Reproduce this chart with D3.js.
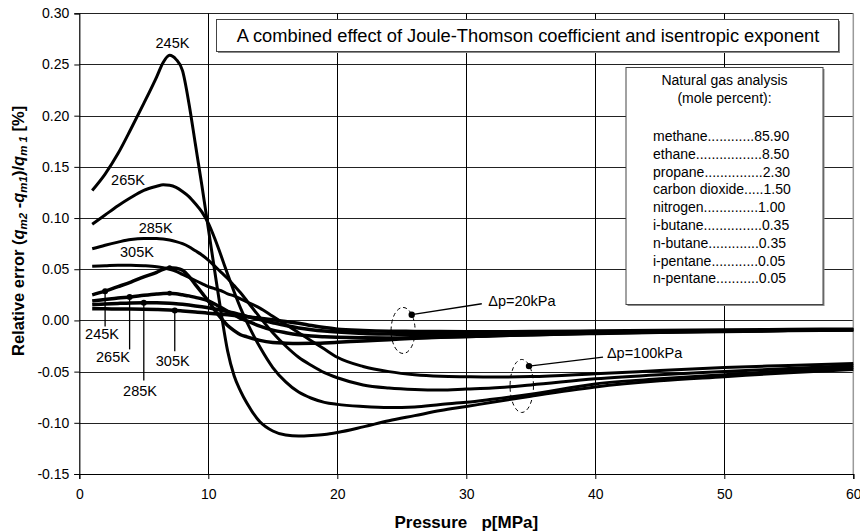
<!DOCTYPE html>
<html>
<head>
<meta charset="utf-8">
<script src="https://cdn.jsdelivr.net/npm/d3@7"></script>
<style>
  html, body { margin: 0; padding: 0; background: #fff; }
  svg { display: block; font-family: Arial, "Liberation Sans", sans-serif; }
</style>
</head>
<body>
<svg id="chart" width="860" height="532"></svg>
<script>
// Pressure grid [MPa] shared by every series
const pressure = [1, 2, 3, 4, 5, 6, 6.5, 7, 7.5, 8, 8.5, 9, 9.5, 10, 10.5, 11, 11.5, 12, 12.5, 13,
                  14, 15, 16, 17, 18, 19, 20, 22, 24, 26, 28, 30, 32, 35, 40, 45, 50, 55, 60];

// Relative error [%], pressure drop 100 kPa
const err245K_100 = [0.127, 0.143, 0.163, 0.187, 0.212, 0.238, 0.252, 0.259, 0.255, 0.244, 0.212, 0.172, 0.132, 0.090, 0.048, 0.007, -0.030, -0.054, -0.069, -0.081,
                     -0.099, -0.108, -0.112, -0.113, -0.1125, -0.1115, -0.1095, -0.104, -0.098, -0.093, -0.088, -0.084, -0.080, -0.074, -0.065, -0.059, -0.055, -0.051, -0.048];
const err265K_100 = [0.094, 0.103, 0.112, 0.120, 0.127, 0.131, 0.1325, 0.132, 0.130, 0.126, 0.121, 0.114, 0.106, 0.095, 0.080, 0.063, 0.045, 0.028, 0.012, -0.002,
                     -0.026, -0.046, -0.060, -0.070, -0.076, -0.080, -0.082, -0.084, -0.085, -0.0845, -0.082, -0.080, -0.077, -0.072, -0.062, -0.057, -0.053, -0.049, -0.046];
const err285K_100 = [0.070, 0.0735, 0.0765, 0.079, 0.080, 0.080, 0.0795, 0.0785, 0.077, 0.075, 0.072, 0.068, 0.064, 0.059, 0.053, 0.047, 0.041, 0.034, 0.027, 0.019,
                     0.003, -0.012, -0.025, -0.036, -0.044, -0.051, -0.056, -0.063, -0.066, -0.0675, -0.068, -0.067, -0.066, -0.063, -0.057, -0.053, -0.050, -0.047, -0.044];
const err305K_100 = [0.053, 0.0535, 0.054, 0.054, 0.0535, 0.0525, 0.0515, 0.050, 0.048, 0.045, 0.042, 0.039, 0.036, 0.033, 0.031, 0.029, 0.026, 0.024, 0.021, 0.018,
                     0.012, 0.004, -0.004, -0.012, -0.020, -0.028, -0.036, -0.045, -0.050, -0.053, -0.0545, -0.055, -0.0553, -0.0548, -0.052, -0.049, -0.046, -0.044, -0.042];

// Relative error [%], pressure drop 20 kPa
const err245K_20 = [0.025, 0.0286, 0.033, 0.0375, 0.0425, 0.047, 0.050, 0.0515, 0.051, 0.049, 0.043, 0.035, 0.027, 0.019, 0.010, 0.002, -0.005, -0.010, -0.014, -0.016,
                    -0.0195, -0.0215, -0.0222, -0.0225, -0.0224, -0.022, -0.0214, -0.020, -0.0188, -0.0175, -0.0165, -0.0157, -0.015, -0.014, -0.0127, -0.0116, -0.0107, -0.0099, -0.0093];
const err265K_20 = [0.019, 0.0205, 0.022, 0.023, 0.0245, 0.0258, 0.0263, 0.0265, 0.026, 0.025, 0.024, 0.0225, 0.021, 0.019, 0.016, 0.0125, 0.009, 0.0055, 0.002, -0.0005,
                    -0.0055, -0.0095, -0.012, -0.014, -0.0153, -0.016, -0.0165, -0.017, -0.0171, -0.0168, -0.0163, -0.0157, -0.015, -0.0139, -0.0123, -0.0113, -0.0104, -0.0097, -0.0092];
const err285K_20 = [0.0153, 0.016, 0.0166, 0.0171, 0.0173, 0.0172, 0.017, 0.0167, 0.0163, 0.0157, 0.015, 0.0142, 0.0133, 0.0123, 0.0112, 0.0099, 0.0086, 0.0072, 0.0056, 0.004,
                    0.0008, -0.0022, -0.005, -0.0073, -0.009, -0.0103, -0.0113, -0.0127, -0.0133, -0.0136, -0.0136, -0.0135, -0.0132, -0.0127, -0.0117, -0.0108, -0.0101, -0.0095, -0.009];
const err305K_20 = [0.0114, 0.0113, 0.0112, 0.0111, 0.0109, 0.0106, 0.0104, 0.0101, 0.0097, 0.0092, 0.0087, 0.0082, 0.0077, 0.0071, 0.0066, 0.006, 0.0055, 0.0049, 0.0043, 0.0037,
                    0.0022, 0.0006, -0.001, -0.0027, -0.005, -0.007, -0.0085, -0.0098, -0.0105, -0.0107, -0.0109, -0.011, -0.011, -0.0109, -0.0104, -0.0098, -0.0093, -0.0089, -0.0085];

// Temperatures of the curves
const temperatures = ["245K", "265K", "285K", "305K"];
// Pressures where the 20 kPa curves are tagged with their temperature
const tagPressure20 = [2.0, 3.9, 5.0, 7.4];
// Extra point markers on the 20 kPa curves
const markerPressure20 = [7.0, 7.0];

// Axis ticks
const xTicks = [0, 10, 20, 30, 40, 50, 60];
const yTicks = [-0.15, -0.10, -0.05, 0.00, 0.05, 0.10, 0.15, 0.20, 0.25, 0.30];
const yTickLabels = ["-0.15", "-0.10", "-0.05", "0.00", "0.05", "0.10", "0.15", "0.20", "0.25", "0.30"];

// Composition box
const titleText = "A combined effect of Joule-Thomson coefficient and isentropic exponent";
const gasHeader = ["Natural gas analysis", "(mole percent):"];
const gasLines = [
  "methane............85.90",
  "ethane.................8.50",
  "propane...............2.30",
  "carbon dioxide.....1.50",
  "nitrogen..............1.00",
  "i-butane...............0.35",
  "n-butane.............0.35",
  "i-pentane............0.05",
  "n-pentane...........0.05"
];

const series100 = [err245K_100, err265K_100, err285K_100, err305K_100];
const series20 = [err245K_20, err265K_20, err285K_20, err305K_20];

const svg = d3.select("#chart");
const L = 79.3, R = 853.3, T = 13.3, B = 474;

const x = d3.scaleLinear().domain([0, 60]).range([L, R]);
const y = d3.scaleLinear().domain([-0.15, 0.30]).range([B, T]);

// gridlines
const grid = svg.append("g");
grid.selectAll("line.h").data(yTicks.filter(v => v > -0.15)).join("line")
  .attr("x1", L).attr("x2", R)
  .attr("y1", d => Math.round(y(d)) + 0.5).attr("y2", d => Math.round(y(d)) + 0.5)
  .attr("stroke", "#222").attr("stroke-width", 1);
grid.selectAll("line.v").data(xTicks.filter(v => v > 0 && v < 60)).join("line")
  .attr("x1", d => Math.round(x(d)) + 0.5).attr("x2", d => Math.round(x(d)) + 0.5)
  .attr("y1", T).attr("y2", B)
  .attr("stroke", "#000").attr("stroke-width", 1);
// right frame edge
grid.append("line")
  .attr("x1", x(60)).attr("x2", x(60)).attr("y1", T).attr("y2", B)
  .attr("stroke", "#9a9a9a").attr("stroke-width", 1.5);

// axes
const yAxis = d3.axisLeft(y).tickValues(yTicks).tickSize(5).tickPadding(5)
  .tickFormat((d, i) => yTickLabels[i]);
const gy = svg.append("g").attr("transform", `translate(${L},0)`).call(yAxis);
const xAxis = d3.axisBottom(x).tickValues(xTicks).tickSize(5).tickPadding(10);
const gx = svg.append("g").attr("transform", `translate(0,${B})`).call(xAxis);
[gx, gy].forEach(g => {
  g.select(".domain").attr("stroke", "#000").attr("stroke-width", 1.2);
  g.selectAll(".tick line").attr("stroke", "#000");
  g.selectAll(".tick text").attr("font-size", 14).attr("fill", "#000")
    .attr("font-family", "Arial, 'Liberation Sans', sans-serif");
});

// title box
const tb = { x: 216, y: 19, w: 622, h: 32 };
svg.append("rect").attr("x", tb.x + 2).attr("y", tb.y + 2).attr("width", tb.w).attr("height", tb.h).attr("fill", "#8a8a8a");
svg.append("rect").attr("x", tb.x + 0.5).attr("y", tb.y + 0.5).attr("width", tb.w).attr("height", tb.h)
  .attr("fill", "#fff").attr("stroke", "#444");
svg.append("text").attr("x", tb.x + tb.w / 2 + 1).attr("y", tb.y + tb.h / 2 + 6.5)
  .attr("text-anchor", "middle").attr("font-size", 18.3).text(titleText);

// composition box
const gb = { x: 625.5, y: 67, w: 197, h: 237 };
svg.append("rect").attr("x", gb.x + 2).attr("y", gb.y + 2).attr("width", gb.w).attr("height", gb.h).attr("fill", "#8a8a8a");
svg.append("rect").attr("x", gb.x + 0.5).attr("y", gb.y + 0.5).attr("width", gb.w).attr("height", gb.h)
  .attr("fill", "#fff").attr("stroke", "#444");
svg.append("g").selectAll("text").data(gasHeader).join("text")
  .attr("x", gb.x + gb.w / 2 + 0.5).attr("y", (d, i) => 85 + i * 17.5)
  .attr("text-anchor", "middle").attr("font-size", 14).text(d => d);
svg.append("g").selectAll("text").data(gasLines).join("text")
  .attr("x", 653).attr("y", (d, i) => 141 + i * 17.8)
  .attr("font-size", 14).text(d => d);

// curves
const line = d3.line()
  .x((d, i) => x(pressure[i]))
  .y(d => y(d))
  .curve(d3.curveMonotoneX);

svg.append("g").selectAll("path").data(series20).join("path")
  .attr("d", line).attr("fill", "none").attr("stroke", "#000")
  .attr("stroke-width", 3.5).attr("stroke-linejoin", "round");
svg.append("g").selectAll("path").data(series100).join("path")
  .attr("d", line).attr("fill", "none").attr("stroke", "#000")
  .attr("stroke-width", 3).attr("stroke-linejoin", "round");

// value of a series at a given pressure (linear between grid points)
function valueAt(vals, p) {
  const i = Math.max(1, d3.bisectLeft(pressure, p));
  const p0 = pressure[i - 1], p1 = pressure[i];
  return vals[i - 1] + (vals[i] - vals[i - 1]) * (p - p0) / (p1 - p0);
}

// temperature tags of the 100 kPa curves
const tags100 = [[7.22, 0.2706], [3.78, 0.1367], [5.92, 0.0899], [4.47, 0.0664]];
svg.append("g").selectAll("text").data(temperatures).join("text")
  .attr("x", (d, i) => x(tags100[i][0])).attr("y", (d, i) => y(tags100[i][1]) + 5)
  .attr("text-anchor", "middle").attr("font-size", 14.5).text(d => d);

// temperature tags of the 20 kPa curves, with leader lines
const leaderEnd = [-0.0059, -0.0283, -0.0586, -0.0300];
const tags20 = [[1.76, -0.0137], [2.61, -0.036], [4.71, -0.069], [7.24, -0.040]];
const lead = svg.append("g");
temperatures.forEach((t, i) => {
  const p = tagPressure20[i];
  const v = valueAt(series20[i], p);
  lead.append("line").attr("x1", x(p)).attr("x2", x(p)).attr("y1", y(v)).attr("y2", y(leaderEnd[i]))
    .attr("stroke", "#000").attr("stroke-width", 1.3);
  lead.append("circle").attr("cx", x(p)).attr("cy", y(v)).attr("r", 3).attr("fill", "#000");
  lead.append("text").attr("x", x(tags20[i][0])).attr("y", y(tags20[i][1]) + 5)
    .attr("text-anchor", "middle").attr("font-size", 14.5).text(t);
});
markerPressure20.forEach((p, i) => {
  lead.append("circle").attr("cx", x(p)).attr("cy", y(valueAt(series20[i], p))).attr("r", 2.5).attr("fill", "#000");
});

// pressure-drop annotations: dashed ellipse, pointer and caption
const notes = [
  { cx: 25.1, cy: -0.0098, rx: 12, ry: 23, dot: [25.77, 0.0056], end: [31.2, 0.0163], tx: [31.7, 0.0189], text: "\u0394p=20kPa" },
  { cx: 34.3, cy: -0.0640, rx: 11.7, ry: 26.5, dot: [34.86, -0.0446], end: [40.6, -0.0358], tx: [40.9, -0.0322], text: "\u0394p=100kPa" }
];
const ann = svg.append("g");
notes.forEach(n => {
  ann.append("ellipse").attr("cx", x(n.cx)).attr("cy", y(n.cy)).attr("rx", n.rx).attr("ry", n.ry)
    .attr("fill", "none").attr("stroke", "#000").attr("stroke-width", 1).attr("stroke-dasharray", "4,3");
  ann.append("line").attr("x1", x(n.dot[0])).attr("y1", y(n.dot[1])).attr("x2", x(n.end[0])).attr("y2", y(n.end[1]))
    .attr("stroke", "#000").attr("stroke-width", 1.3);
  ann.append("circle").attr("cx", x(n.dot[0])).attr("cy", y(n.dot[1])).attr("r", 3.2).attr("fill", "#000");
  ann.append("text").attr("x", x(n.tx[0])).attr("y", y(n.tx[1]) + 5).attr("font-size", 14.5).text(n.text);
});

// axis titles
svg.append("text").attr("x", (L + R) / 2).attr("y", 528).attr("text-anchor", "middle")
  .attr("font-size", 17).attr("font-weight", "bold").style("white-space", "pre")
  .text("Pressure   p[MPa]");

const yt = svg.append("text")
  .attr("transform", "translate(23.5,356) rotate(-90)")
  .attr("text-anchor", "start").attr("font-size", 16.5).attr("font-weight", "bold");
yt.append("tspan").text("Relative error (");
yt.append("tspan").attr("font-style", "italic").text("q");
yt.append("tspan").attr("font-style", "italic").attr("font-size", 11.5).attr("dy", 3).text("m2");
yt.append("tspan").attr("dy", -3).text(" -");
yt.append("tspan").attr("font-style", "italic").text("q");
yt.append("tspan").attr("font-style", "italic").attr("font-size", 11.5).attr("dy", 3).text("m1");
yt.append("tspan").attr("dy", -3).text(")/");
yt.append("tspan").attr("font-style", "italic").text("q");
yt.append("tspan").attr("font-style", "italic").attr("font-size", 11.5).attr("dy", 3).text("m 1");
yt.append("tspan").attr("dy", -3).text(" [%]");
</script>
</body>
</html>
